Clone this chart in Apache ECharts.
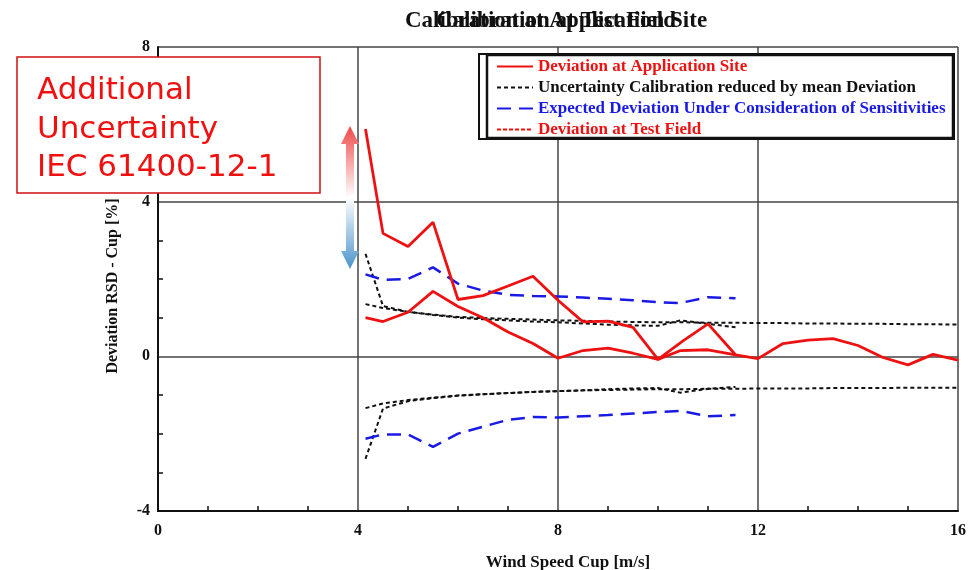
<!DOCTYPE html>
<html>
<head>
<meta charset="utf-8">
<script src="https://cdn.jsdelivr.net/npm/echarts@6/dist/echarts.min.js"></script>
<style>html,body{margin:0;padding:0;background:#fff}#c{width:979px;height:570px}</style>
</head>
<body>
<div id="c"></div>
<script>
// ---- data ----
var titleA = 'Calibration at Test Field';
var titleB = 'Calibration at Application Site';
var xName = 'Wind Speed Cup [m/s]';
var yName = 'Deviation RSD - Cup [%]';
var legendNames = ['Deviation at Application Site', 'Uncertainty Calibration reduced by mean Deviation', 'Expected Deviation Under Consideration of Sensitivities', 'Deviation at Test Field'];
var annotationLines = ['Additional', 'Uncertainty', 'IEC 61400-12-1'];

// short runs (test field campaign)
var xShort = [4.15, 4.5, 5, 5.5, 6, 6.5, 7, 7.5, 8, 8.5, 9, 9.5, 10, 10.45, 11, 11.55];
// long run (application site)
var xLong = [4.15, 4.5, 5, 5.5, 6, 6.5, 7, 7.5, 8, 8.5, 9, 9.5, 10, 10.5, 11, 11.55, 12, 12.5, 13, 13.5, 14, 14.5, 15, 15.5, 16];

var devApplication = [5.88, 3.18, 2.84, 3.47, 1.47, 1.57, 1.82, 2.07, 1.45, 0.89, 0.91, 0.75, -0.08, 0.4, 0.84, 0.04, -0.06, 0.33, 0.42, 0.46, 0.28, -0.03, -0.22, 0.05, -0.1];
var devTestField = [1.0, 0.9, 1.14, 1.68, 1.29, 1.0, 0.63, 0.33, -0.05, 0.15, 0.21, 0.08, -0.08, 0.15, 0.17, 0.04];

var uncShortUpper = [2.65, 1.3, 1.15, 1.07, 1.0, 0.96, 0.93, 0.9, 0.88, 0.85, 0.82, 0.8, 0.79, 0.93, 0.84, 0.75];
var uncShortLower = [-2.65, -1.35, -1.16, -1.08, -1.02, -0.98, -0.95, -0.92, -0.9, -0.88, -0.85, -0.83, -0.82, -0.94, -0.84, -0.79];
var uncLongUpper = [1.35, 1.25, 1.15, 1.08, 1.02, 0.99, 0.97, 0.95, 0.93, 0.92, 0.9, 0.89, 0.88, 0.88, 0.87, 0.87, 0.86, 0.86, 0.85, 0.85, 0.84, 0.84, 0.83, 0.83, 0.82];
var uncLongLower = [-1.34, -1.22, -1.13, -1.07, -1.01, -0.98, -0.95, -0.92, -0.9, -0.88, -0.87, -0.86, -0.85, -0.85, -0.84, -0.84, -0.83, -0.83, -0.83, -0.82, -0.82, -0.82, -0.81, -0.81, -0.81];

var expUpper = [2.12, 1.98, 2.0, 2.3, 1.88, 1.7, 1.59, 1.56, 1.55, 1.52, 1.49, 1.45, 1.4, 1.38, 1.53, 1.5];
var expLower = [-2.13, -2.02, -2.02, -2.34, -2.0, -1.82, -1.64, -1.57, -1.58, -1.55, -1.52, -1.48, -1.44, -1.41, -1.55, -1.52];

var xTicks = [0, 4, 8, 12, 16];
var yTicks = [-4, 0, 4, 8];

function pairs(xs, ys) { return ys.map(function (v, i) { return [xs[i], v]; }); }

var RED = '#ee1111', BLUE = '#1a1ae6', BLACK = '#111';
var serif = '"Liberation Serif", "DejaVu Serif", serif';

function lineSeries(name, xs, ys, color, type, width) {
  return {
    name: name, type: 'line', data: pairs(xs, ys), symbol: 'none', smooth: false,
    lineStyle: { color: color, width: width, type: type },
    itemStyle: { color: color }, z: 3, silent: true, animation: false
  };
}

var chart = echarts.init(document.getElementById('c'), null, { renderer: 'canvas' });
var option = {
  animation: false,
  backgroundColor: '#fff',
  title: [
    { text: titleA, left: 551, top: 5, textAlign: 'center', textStyle: { fontFamily: serif, fontWeight: 'bold', fontSize: 23, color: '#111' } },
    { text: titleB, left: 551, top: 5, textAlign: 'center', textStyle: { fontFamily: serif, fontWeight: 'bold', fontSize: 23, color: '#111' } }
  ],
  grid: { left: 158, right: 21, top: 47, bottom: 59, containLabel: false, outerBoundsMode: 'none' },
  xAxis: {
    type: 'value', min: 0, max: 16, interval: 4,
    name: xName, nameLocation: 'middle', nameGap: 43,
    nameTextStyle: { fontFamily: serif, fontWeight: 'bold', fontSize: 17, color: '#111', padding: [0, 0, 0, 20] },
    axisLine: { onZero: false, lineStyle: { color: '#111', width: 2 } },
    axisTick: { show: false, inside: true },
    minorTick: { show: true, splitNumber: 4, length: 5, lineStyle: { color: '#111', width: 1.5 } },
    axisLabel: { fontFamily: serif, fontWeight: 'bold', fontSize: 16, color: '#111', margin: 12,
      formatter: function (v) { return xTicks.indexOf(v) >= 0 ? String(v) : ''; } },
    splitLine: { show: true, lineStyle: { color: '#444', width: 1.5 } }
  },
  yAxis: {
    type: 'value', min: -4, max: 8, interval: 4,
    name: yName, nameLocation: 'middle', nameGap: 37, nameRotate: 90,
    nameTextStyle: { fontFamily: serif, fontWeight: 'bold', fontSize: 16, color: '#111', padding: [0, 14, 0, 0] },
    axisLine: { onZero: false, lineStyle: { color: '#111', width: 2 } },
    axisTick: { show: false, inside: true },
    minorTick: { show: true, splitNumber: 4, length: 5, lineStyle: { color: '#111', width: 1.5 } },
    axisLabel: { fontFamily: serif, fontWeight: 'bold', fontSize: 16, color: '#111', margin: 8,
      formatter: function (v) { return yTicks.indexOf(v) >= 0 ? String(v) : ''; } },
    splitLine: { show: true, lineStyle: { color: '#444', width: 1.5 } }
  },
  legend: {
    orient: 'vertical', left: 496, top: 58, padding: 0, itemGap: 4,
    itemWidth: 36, itemHeight: 14, z: 20, selectedMode: false,
    itemStyle: { opacity: 0 },
    textStyle: { fontFamily: serif, fontWeight: 'bold', fontSize: 17, lineHeight: 17, padding: [0, 0, 0, 0] },
    data: [
      { name: legendNames[0], textStyle: { color: RED } },
      { name: legendNames[1], textStyle: { color: BLACK } },
      { name: legendNames[2], textStyle: { color: BLUE } },
      { name: legendNames[3], textStyle: { color: RED }, lineStyle: { type: [4, 2], color: RED, width: 2 } }
    ]
  },
  graphic: [
    { type: 'rect', z: 15, shape: { x: 479, y: 54, width: 475, height: 85 }, style: { fill: '#fff', stroke: '#111', lineWidth: 2 } },
    { type: 'rect', z: 15, shape: { x: 487, y: 55, width: 466, height: 83 }, style: { fill: 'none', stroke: '#111', lineWidth: 2.5 } },
    { type: 'rect', z: 30, shape: { x: 17, y: 57, width: 303, height: 136 }, style: { fill: '#fff', stroke: '#d01010', lineWidth: 1.5 } },
    { type: 'text', z: 31, left: 37, top: 72, style: { text: annotationLines.join('\n'), fill: '#f01010', font: '31px "DejaVu Sans", sans-serif', lineHeight: 38.5 } },
    { type: 'polygon', z: 31,
      shape: { points: [[350, 126], [359, 144], [354, 144], [354, 251], [359, 251], [350, 269], [341, 251], [346, 251], [346, 144], [341, 144]] },
      style: { fill: { type: 'linear', x: 0, y: 0, x2: 0, y2: 1, colorStops: [
        { offset: 0, color: '#f04848' }, { offset: 0.5, color: '#ffffff' }, { offset: 1, color: '#4a94cc' } ] } } }
  ],
  series: [
    lineSeries(legendNames[1], xLong, uncLongUpper, BLACK, [4, 3], 2),
    lineSeries(legendNames[1], xLong, uncLongLower, BLACK, [4, 3], 2),
    lineSeries(legendNames[1], xShort, uncShortUpper, BLACK, [4, 3], 2),
    lineSeries(legendNames[1], xShort, uncShortLower, BLACK, [4, 3], 2),
    lineSeries(legendNames[2], xShort, expUpper, BLUE, [14, 8], 2.5),
    lineSeries(legendNames[2], xShort, expLower, BLUE, [14, 8], 2.5),
    lineSeries(legendNames[3], xShort, devTestField, RED, 'solid', 2.8),
    lineSeries(legendNames[0], xLong, devApplication, RED, 'solid', 2.8)
  ]
};
chart.setOption(option);
</script>
</body>
</html>
